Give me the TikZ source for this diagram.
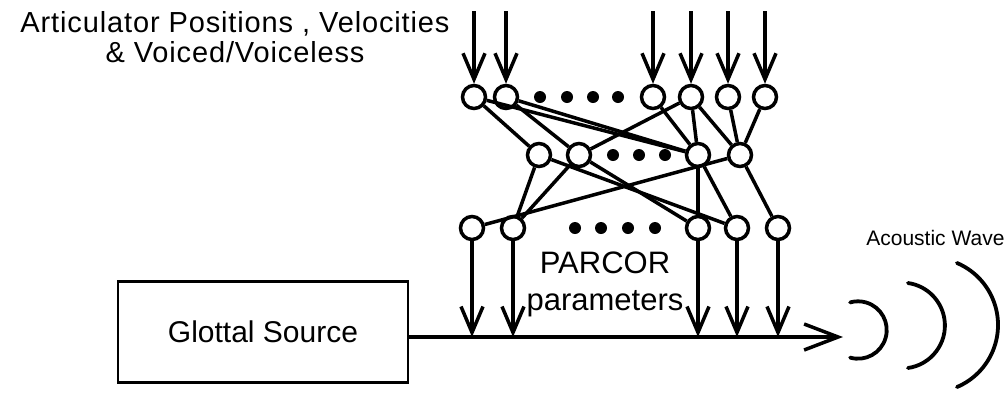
\documentclass[tikz,border=0pt]{standalone}
\usepackage{fontspec}
\setmainfont{Liberation Sans}
\usepackage{tikz}
\usetikzlibrary{arrows.meta}

\begin{document}
\begin{tikzpicture}[x=1pt, y=-1pt,
        unit/.style={draw, circle, line width=3.5pt, minimum size=23pt, inner sep=0pt},
        dotmark/.style={circle, fill, minimum size=12pt, inner sep=0pt},
        link/.style={line width=3.5pt},
        feed/.style={line width=3.5pt, -{Straight Barb[length=26pt,width=22pt]}},
        bigfeed/.style={line width=3.5pt, -{Straight Barb[length=34pt,width=26pt]}},
        wave/.style={line width=3.8pt, line cap=round}]
        \useasboundingbox (0,0) rectangle (1008,392);

        % input layer
        \node[unit] (t1) at (474, 97) {};
        \node[unit] (t2) at (506, 97) {};
        \node[dotmark] (td1) at (540, 97) {};
        \node[dotmark] (td2) at (567, 97) {};
        \node[dotmark] (td3) at (593, 97) {};
        \node[dotmark] (td4) at (618, 97) {};
        \node[unit] (t3) at (653, 97) {};
        \node[unit] (t4) at (691, 97) {};
        \node[unit] (t5) at (728, 97) {};
        \node[unit] (t6) at (765, 97) {};

        % hidden layer
        \node[unit] (m1) at (539, 155) {};
        \node[unit] (m2) at (579, 155) {};
        \node[dotmark] (md1) at (613, 155) {};
        \node[dotmark] (md2) at (639, 155) {};
        \node[dotmark] (md3) at (665, 155) {};
        \node[unit] (m3) at (698, 155) {};
        \node[unit] (m4) at (740, 155) {};

        % output layer
        \node[unit] (b1) at (472, 228) {};
        \node[unit] (b2) at (513, 228) {};
        \node[dotmark] (bd1) at (575, 228) {};
        \node[dotmark] (bd2) at (601, 228) {};
        \node[dotmark] (bd3) at (628, 228) {};
        \node[dotmark] (bd4) at (655, 228) {};
        \node[unit] (b3) at (698, 228) {};
        \node[unit] (b4) at (737, 228) {};
        \node[unit] (b5) at (778, 228) {};

        % texts
        \node[align=center, font=\fontsize{29}{30}\selectfont\addfontfeatures{LetterSpace=3}] (title) at (235, 37)
            {Articulator Positions , Velocities\\ \& Voiced/Voiceless};
        \node[align=center, font=\fontsize{31}{37}\selectfont] (parcor) at (605, 284)
            {PARCOR\\ parameters};
        \node[font=\fontsize{21}{23}\selectfont, anchor=base east] (wavetext) at (1008, 245) {Acoustic Wave};
        \node[draw, line width=2.6pt, minimum width=290pt, minimum height=101pt,
            font=\fontsize{30}{32}\selectfont] (glottal) at (263, 332) {Glottal Source};

        \coordinate (intop) at (0, 11);
        \coordinate (mix) at (843, 337);

        % inputs
        \draw[feed] (t1 |- intop) -- (t1);
        \draw[feed] (t2 |- intop) -- (t2);
        \draw[feed] (t3 |- intop) -- (t3);
        \draw[feed] (t4 |- intop) -- (t4);
        \draw[feed] (t5 |- intop) -- (t5);
        \draw[feed] (t6 |- intop) -- (t6);

        % input to hidden
        \draw[link] (t1) -- (m1);
        \draw[link] (t1) -- (m3);
        \draw[link] (t2) -- (m2);
        \draw[link] (t2) -- (m3);
        \draw[link] (t3) -- (m3);
        \draw[link] (t4) -- (m2);
        \draw[link] (t4) -- (m3);
        \draw[link] (t4) -- (m4);
        \draw[link] (t5) -- (m4);
        \draw[link] (t6) -- (m4);

        % hidden to output
        \draw[link] (m1) -- (b2);
        \draw[link] (m1) -- (b4);
        \draw[link] (m2) -- (b2);
        \draw[link] (m2) -- (b3);
        \draw[link] (m3) -- (b3);
        \draw[link] (m3) -- (b4);
        \draw[link] (m4) -- (b1);
        \draw[link] (m4) -- (b5);

        % parameters onto the source line
        \draw[feed] (b1) -- (b1 |- mix);
        \draw[feed] (b2) -- (b2 |- mix);
        \draw[feed] (b3) -- (b3 |- mix);
        \draw[feed] (b4) -- (b4 |- mix);
        \draw[feed] (b5) -- (b5 |- mix);
        \draw[bigfeed] (glottal.east |- mix) -- (mix);

        % sound
        \draw[wave] (858, 330) ++(106:28.7) arc[start angle=106, end angle=-106, radius=28.7];
        \draw[wave] (902, 325.5) ++(82:42.9) arc[start angle=82, end angle=-82, radius=42.9];
        \draw[wave] (930.6, 325) ++(67:67.4) arc[start angle=67, end angle=-67, radius=67.4];
\end{tikzpicture}
\end{document}
